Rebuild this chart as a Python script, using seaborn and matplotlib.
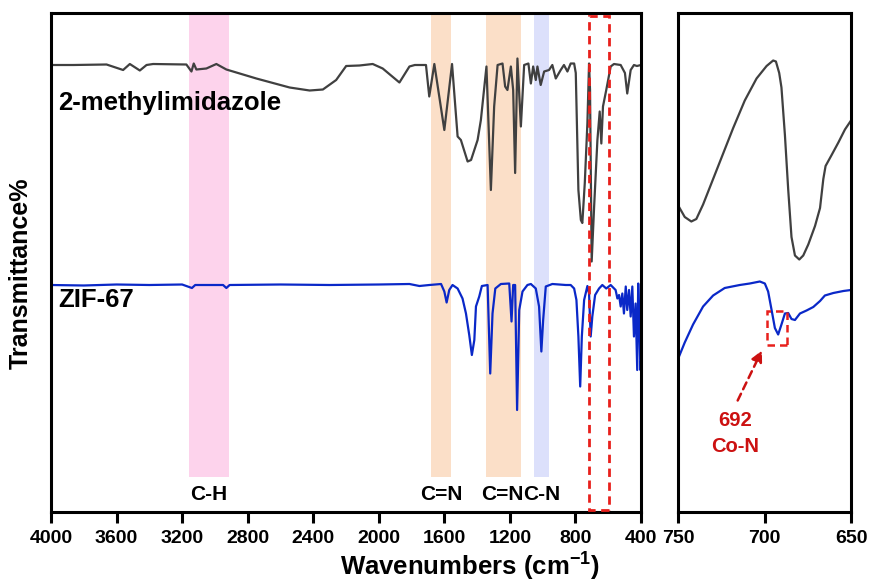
import matplotlib
matplotlib.use("Agg")
import matplotlib.pyplot as plt
from matplotlib.patches import Rectangle
import pandas as pd
import seaborn as sns

# 2-methylimidazole, full range (wavenumber, transmittance)
mi_wn = [4000, 3864, 3661, 3560, 3519, 3458, 3417, 3377, 3174, 3143, 3129, 3113,
         3052, 2991, 2930, 2747, 2544, 2422, 2341, 2260, 2199, 2118, 2037, 1976,
         1874, 1813, 1780, 1712, 1692, 1661, 1600, 1553, 1519, 1499, 1458, 1437,
         1397, 1377, 1343, 1316, 1296, 1275, 1245, 1229, 1215, 1194, 1180, 1168,
         1154, 1133, 1113, 1087, 1072, 1058, 1042, 1032, 1012, 991, 961, 941,
         920, 890, 870, 849, 829, 808, 798, 782, 767, 758, 743, 727, 717, 711,
         701, 686, 666, 652, 642, 632, 612, 585, 565, 524, 498, 484, 463, 443,
         425, 400]
mi_t = [89.4, 89.4, 89.5, 88.4, 89.6, 88.3, 89.4, 89.6, 89.5, 88.1, 89.7, 88.5,
        88.7, 89.6, 88.5, 86.7, 84.9, 84.3, 84.5, 86.4, 89.2, 89.3, 89.6, 88.7,
        85.9, 89.1, 89.4, 89.4, 83.1, 89.6, 76.4, 89.6, 75.1, 74.4, 70.1, 70.4,
        74.4, 78.4, 89.1, 64.4, 81.1, 89.4, 89.7, 85.1, 84.4, 89.1, 84.4, 67.8,
        90.7, 77.1, 89.4, 89.7, 85.7, 89.1, 86.4, 89.1, 85.4, 88.1, 88.4, 89.4,
        86.7, 88.4, 89.4, 88.1, 89.7, 89.7, 87.8, 64.4, 58.4, 57.8, 65.8, 77.8,
        89.7, 84.4, 50.1, 61.1, 74.4, 80.1, 73.7, 81.1, 84.4, 89.1, 89.6, 89.4,
        87.8, 83.7, 88.4, 89.4, 89.2, 89.4]

# ZIF-67, full range
zif_wn = [4000, 3800, 3600, 3400, 3200, 3140, 3120, 2950, 2930, 2910, 2600, 2300,
          2000, 1813, 1752, 1691, 1620, 1600, 1586, 1570, 1550, 1519, 1489, 1468,
          1448, 1432, 1417, 1407, 1387, 1371, 1336, 1320, 1306, 1289, 1255, 1204,
          1190, 1180, 1168, 1156, 1143, 1123, 1093, 1072, 1042, 1022, 1008, 997,
          981, 941, 859, 829, 808, 794, 782, 771, 761, 747, 727, 717, 707, 697,
          680, 656, 636, 612, 585, 555, 544, 534, 524, 514, 504, 493, 484, 473,
          463, 453, 443, 433, 423, 417, 410, 404, 401]
zif_t = [45.4, 45.3, 45.5, 45.4, 45.5, 44.8, 45.4, 45.4, 44.8, 45.4, 45.5, 45.4,
         45.5, 45.6, 45.2, 45.4, 45.6, 44.1, 41.9, 44.4, 45.4, 44.7, 42.7, 39.7,
         35.4, 31.4, 34.4, 41.1, 43.1, 45.2, 45.4, 27.7, 39.7, 44.7, 45.6, 45.7,
         38.1, 45.4, 45.4, 20.4, 40.4, 44.1, 45.4, 45.6, 44.7, 41.1, 32.1, 38.4,
         45.1, 45.6, 45.4, 45.4, 44.7, 42.4, 35.1, 25.1, 35.1, 42.4, 45.2, 43.7,
         35.1, 39.1, 43.4, 44.7, 45.4, 44.7, 45.4, 44.4, 42.7, 43.4, 41.1, 43.7,
         39.7, 45.1, 40.4, 44.4, 39.1, 45.1, 35.1, 41.7, 28.4, 45.7, 38.4, 28.4,
         30.0]

# zoomed window 750-650
mi_zoom_wn = [749.4, 746.1, 742.3, 739.4, 735.5, 729.7, 723.9, 718.1, 711.4, 704.6,
              698.8, 695.0, 693.4, 691.5, 690.2, 688.2, 686.3, 684.4, 682.4, 679.9,
              677.6, 674.7, 670.8, 667.9, 666.0, 664.7, 661.2, 657.3, 653.5, 650.0]
mi_zoom_t = [61.0, 59.0, 58.1, 58.6, 61.5, 66.6, 71.7, 76.8, 82.3, 86.7,
             89.2, 90.3, 90.1, 87.8, 84.9, 75.4, 64.5, 55.0, 51.3, 50.5,
             51.3, 53.5, 57.2, 60.8, 66.6, 69.2, 71.4, 73.9, 76.5, 78.3]
zif_zoom_wn = [750.0, 746.1, 741.3, 735.5, 729.7, 723.0, 714.3, 708.5, 702.7, 699.8,
               697.9, 695.9, 694.0, 692.1, 690.2, 688.2, 686.3, 684.4, 682.4, 679.5,
               675.7, 671.8, 667.9, 665.1, 660.2, 654.4, 650.0]
zif_zoom_t = [30.6, 33.9, 37.5, 41.1, 43.3, 44.8, 45.4, 45.7, 46.1, 45.7,
              44.1, 40.4, 36.8, 35.5, 37.5, 39.7, 39.8, 38.6, 38.4, 39.7,
              40.3, 41.0, 42.2, 43.3, 43.8, 44.2, 44.4]

# shaded bands
band_lo = [2915, 1560, 1135, 960]
band_hi = [3160, 1680, 1345, 1055]
band_colors = ["#FDD3EC", "#FBDFC8", "#FBDFC8", "#DCE0FB"]
band_labels = ["C-H", "C=N", "C=N", "C-N"]
band_label_x = [3040, 1620, 1245, 1003]

GRAY = "#404040"
BLUE = "#0A28C8"
RED = "#E8201C"
DARKRED = "#CC1111"

sns.set_style("white")
plt.rcParams["font.family"] = ["Liberation Sans", "DejaVu Sans"]
plt.rcParams["font.weight"] = "bold"
plt.rcParams["axes.labelweight"] = "bold"
plt.rcParams["text.color"] = "black"
plt.rcParams["axes.labelcolor"] = "black"
plt.rcParams["xtick.color"] = "black"
plt.rcParams["mathtext.fontset"] = "custom"
plt.rcParams["mathtext.bf"] = "Liberation Sans:bold"
plt.rcParams["mathtext.rm"] = "Liberation Sans:bold"

fig = plt.figure(figsize=(8.72, 5.83), dpi=100)
W, H = 872, 583
ax = fig.add_axes([51 / W, (H - 512) / H, 590 / W, 499 / H])
ax2 = fig.add_axes([678 / W, (H - 512) / H, 173 / W, 499 / H])

mi = pd.DataFrame({"wn": mi_wn, "t": mi_t})
zif = pd.DataFrame({"wn": zif_wn, "t": zif_t})
mi_z = pd.DataFrame({"wn": mi_zoom_wn, "t": mi_zoom_t})
zif_z = pd.DataFrame({"wn": zif_zoom_wn, "t": zif_zoom_t})

# bands stop just above the labels
for lo, hi, c in zip(band_lo, band_hi, band_colors):
    ax.axvspan(lo, hi, ymin=0.07, ymax=1, color=c, lw=0, zorder=0)

sns.lineplot(data=mi, x="wn", y="t", ax=ax, color=GRAY, lw=1.6,
             sort=False, estimator=None)
sns.lineplot(data=zif, x="wn", y="t", ax=ax, color=BLUE, lw=1.6,
             sort=False, estimator=None)
sns.lineplot(data=mi_z, x="wn", y="t", ax=ax2, color=GRAY, lw=1.6,
             sort=False, estimator=None)
sns.lineplot(data=zif_z, x="wn", y="t", ax=ax2, color=BLUE, lw=1.6,
             sort=False, estimator=None)

for lbl, x in zip(band_labels, band_label_x):
    ax.text(x, 3.6, lbl, ha="center", va="center", fontsize=15,
            fontweight="bold")

ax.text(3957, 81.8, "2-methylimidazole", ha="left", va="center",
        fontsize=18.5, fontweight="bold")
ax.text(3957, 42.4, "ZIF-67", ha="left", va="center",
        fontsize=18.5, fontweight="bold")

# dashed box marking the zoomed window
ax.add_patch(Rectangle((595, 0.4), 125, 98.8, fill=False, edgecolor=RED,
                       lw=2, ls=(0, (3, 2)), zorder=5))
ax2.add_patch(Rectangle((686.9, 33.5), 11.9, 6.7, fill=False, edgecolor=RED,
                        lw=1.8, ls=(0, (3, 2)), zorder=5))
ax2.annotate("", xy=(700.8, 32.8), xytext=(716.2, 21.8),
             arrowprops=dict(arrowstyle="-|>", color=DARKRED, lw=1.8,
                             ls=(0, (3, 2)), mutation_scale=16))
ax2.text(717, 18.2, "692", ha="center", va="center", color=DARKRED,
         fontsize=14.5, fontweight="bold")
ax2.text(717, 13.1, "Co-N", ha="center", va="center", color=DARKRED,
         fontsize=14.5, fontweight="bold")

ax.set_xlim(4000, 400)
ax.set_xticks(range(4000, 399, -400))
ax2.set_xlim(750, 650)
ax2.set_xticks([750, 700, 650])

for a in (ax, ax2):
    a.set_ylim(0, 99.8)
    a.set_yticks([])
    a.set_xlabel("")
    a.set_ylabel("")
    for s in a.spines.values():
        s.set_linewidth(2.2)
        s.set_color("black")
    a.tick_params(axis="x", direction="out", length=8, width=2.2,
                  labelsize=14, bottom=True, pad=5, colors="black")
    for t in a.get_xticklabels():
        t.set_fontweight("bold")

ax.set_ylabel("Transmittance%", fontsize=18, fontweight="bold")
ax.yaxis.set_label_coords(-0.031, 0.479)
fig.text(470 / W, 1 - 566 / H, r"Wavenumbers (cm$^{\mathbf{-1}}$)",
         ha="center", va="center", fontsize=18.5, fontweight="bold")

fig.savefig("out.png", dpi=100)
